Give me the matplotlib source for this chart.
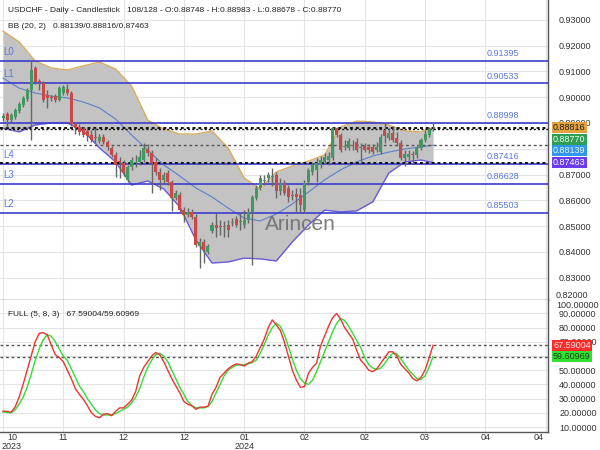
import matplotlib
matplotlib.use('Agg')
import matplotlib.pyplot as plt
from matplotlib.transforms import blended_transform_factory
import numpy as np

plt.rcParams['font.family'] = ['Liberation Sans', 'DejaVu Sans']

# ---------------- data ----------------
opens = [
0.8919, 0.8935, 0.8911, 0.8923, 0.8946, 0.8969, 0.8993, 0.9028, 0.9113, 0.9062,
0.9055, 0.9008, 0.9000, 0.9004, 0.8989, 0.9016, 0.9031, 0.9016, 0.8896, 0.8884,
0.8876, 0.8869, 0.8853, 0.8842, 0.8830, 0.8845, 0.8826, 0.8803, 0.8776, 0.8752,
0.8745, 0.8679, 0.8729, 0.8745, 0.8749, 0.8756, 0.8799, 0.8783, 0.8749, 0.8710,
0.8679, 0.8706, 0.8671, 0.8609, 0.8621, 0.8562, 0.8543, 0.8555, 0.8535, 0.8423,
0.8439, 0.8400, 0.8481, 0.8504, 0.8500, 0.8497, 0.8504, 0.8512, 0.8528, 0.8516,
0.8504, 0.8524, 0.8555, 0.8609, 0.8648, 0.8675, 0.8687, 0.8690, 0.8698, 0.8636,
0.8667, 0.8648, 0.8621, 0.8625, 0.8621, 0.8562, 0.8671, 0.8710, 0.8718, 0.8737,
0.8749, 0.8756, 0.8764, 0.8880, 0.8853, 0.8807, 0.8803, 0.8814, 0.8826, 0.8803,
0.8811, 0.8807, 0.8807, 0.8795, 0.8787, 0.8873, 0.8842, 0.8861, 0.8842, 0.8822,
0.8764, 0.8768, 0.8780, 0.8776, 0.8803, 0.8834, 0.8853, 0.88748]
highs = [
0.8938, 0.8942, 0.8938, 0.8958, 0.8981, 0.9004, 0.9035, 0.9144, 0.9121, 0.9070,
0.9062, 0.9028, 0.9008, 0.9012, 0.9043, 0.9047, 0.9051, 0.9024, 0.8904, 0.8896,
0.8884, 0.8880, 0.8873, 0.8880, 0.8857, 0.8857, 0.8834, 0.8810, 0.8787, 0.8768,
0.8756, 0.8737, 0.8768, 0.8776, 0.8795, 0.8822, 0.8818, 0.8795, 0.8764, 0.8725,
0.8710, 0.8718, 0.8679, 0.8640, 0.8632, 0.8574, 0.8570, 0.8566, 0.8547, 0.8454,
0.8450, 0.8431, 0.8516, 0.8551, 0.8524, 0.8520, 0.8524, 0.8531, 0.8539, 0.8551,
0.8562, 0.8570, 0.8621, 0.8659, 0.8698, 0.8698, 0.8710, 0.8725, 0.8710, 0.8687,
0.8679, 0.8659, 0.8640, 0.8648, 0.8648, 0.8679, 0.8725, 0.8749, 0.8764, 0.8772,
0.8783, 0.8787, 0.8884, 0.8884, 0.8861, 0.8834, 0.8842, 0.8834, 0.8842, 0.8822,
0.8822, 0.8818, 0.8818, 0.8826, 0.8857, 0.8900, 0.8880, 0.8888, 0.8865, 0.8834,
0.8795, 0.8795, 0.8791, 0.8811, 0.8842, 0.8873, 0.8884, 0.88983]
lows = [
0.8907, 0.8884, 0.8904, 0.8915, 0.8938, 0.8962, 0.8985, 0.8834, 0.9051, 0.9028,
0.8981, 0.8958, 0.8985, 0.8981, 0.8985, 0.9008, 0.9008, 0.8888, 0.8857, 0.8853,
0.8845, 0.8830, 0.8826, 0.8822, 0.8822, 0.8818, 0.8795, 0.8768, 0.8690, 0.8687,
0.8694, 0.8671, 0.8718, 0.8729, 0.8737, 0.8749, 0.8772, 0.8628, 0.8698, 0.8640,
0.8667, 0.8659, 0.8559, 0.8601, 0.8555, 0.8516, 0.8535, 0.8528, 0.8419, 0.8338,
0.8357, 0.8392, 0.8473, 0.8458, 0.8466, 0.8458, 0.8458, 0.8500, 0.8497, 0.8485,
0.8493, 0.8512, 0.8349, 0.8601, 0.8640, 0.8659, 0.8671, 0.8656, 0.8609, 0.8621,
0.8621, 0.8594, 0.8601, 0.8555, 0.8555, 0.8555, 0.8659, 0.8698, 0.8671, 0.8725,
0.8741, 0.8737, 0.8756, 0.8845, 0.8787, 0.8795, 0.8795, 0.8795, 0.8787, 0.8749,
0.8787, 0.8783, 0.8780, 0.8787, 0.8780, 0.8822, 0.8834, 0.8826, 0.8811, 0.8756,
0.8733, 0.8756, 0.8745, 0.8764, 0.8795, 0.8826, 0.8845, 0.88678]
closes = [
0.8927, 0.8911, 0.8931, 0.8950, 0.8973, 0.8997, 0.9028, 0.9105, 0.9059, 0.9059,
0.8989, 0.8997, 0.8997, 0.8989, 0.9035, 0.9039, 0.9016, 0.8896, 0.8880, 0.8865,
0.8853, 0.8849, 0.8834, 0.8841, 0.8845, 0.8826, 0.8807, 0.8776, 0.8737, 0.8749,
0.8706, 0.8729, 0.8756, 0.8749, 0.8768, 0.8803, 0.8783, 0.8745, 0.8710, 0.8679,
0.8698, 0.8671, 0.8609, 0.8628, 0.8562, 0.8543, 0.8555, 0.8535, 0.8427, 0.8439,
0.8407, 0.8423, 0.8504, 0.8493, 0.8497, 0.8500, 0.8485, 0.8516, 0.8504, 0.8520,
0.8524, 0.8555, 0.8613, 0.8648, 0.8687, 0.8679, 0.8698, 0.8694, 0.8636, 0.8667,
0.8628, 0.8613, 0.8617, 0.8613, 0.8582, 0.8667, 0.8718, 0.8737, 0.8745, 0.8756,
0.8768, 0.8772, 0.8880, 0.8853, 0.8795, 0.8811, 0.8830, 0.8811, 0.8795, 0.8807,
0.8795, 0.8795, 0.8787, 0.8807, 0.8845, 0.8849, 0.8861, 0.8834, 0.8822, 0.8764,
0.8780, 0.8780, 0.8776, 0.8803, 0.8834, 0.8857, 0.8876, 0.88770]

bb_idx = [0, 4, 8, 12, 16, 20, 24, 28, 32, 36, 40, 44, 48, 52, 56, 60, 64, 68,
          72, 76, 80, 84, 88, 92, 96, 100, 104, 107]
bb_upper = [0.9256, 0.9214, 0.9140, 0.9113, 0.9105, 0.9121, 0.9136, 0.9109, 0.9043,
            0.8911, 0.8876, 0.8857, 0.8857, 0.8869, 0.8803, 0.8687, 0.8644, 0.8710,
            0.8733, 0.8752, 0.8776, 0.8884, 0.8907, 0.8904, 0.8892, 0.8869, 0.8865, 0.88816]
bb_mid = [0.9074, 0.9035, 0.9016, 0.9004, 0.8997, 0.8981, 0.8958, 0.8915, 0.8853,
          0.8795, 0.8737, 0.8694, 0.8648, 0.8613, 0.8570, 0.8531, 0.8520, 0.8547,
          0.8586, 0.8632, 0.8679, 0.8718, 0.8749, 0.8772, 0.8787, 0.8799, 0.8807, 0.88139]
bb_lower = [0.8880, 0.8865, 0.8892, 0.8900, 0.8900, 0.8869, 0.8803, 0.8749, 0.8659,
            0.8675, 0.8644, 0.8574, 0.8446, 0.8357, 0.8361, 0.8376, 0.8373, 0.8365,
            0.8439, 0.8504, 0.8562, 0.8555, 0.8559, 0.8594, 0.8706, 0.8749, 0.8756, 0.87463]

levels = [0.91395, 0.90533, 0.88998, 0.87416, 0.86628, 0.85503]
level_names = ['L0', 'L1', '', 'L4', 'L3', 'L2']

stoch_k = [21.2, 21, 20.5, 24, 31, 40, 50, 60, 70, 76, 76.5, 75, 68, 61, 59, 56, 50, 44,
           37, 33, 29.5, 25, 20, 17.5, 16.5, 19, 19.5, 18, 21, 23.5, 23.5, 26, 29, 35,
           46, 52, 56, 60, 62.5, 61, 56, 50, 44, 39, 34, 28, 26, 25, 22.5, 24, 24, 24.7,
           33, 38, 45, 48, 51, 53, 54.5, 54, 53, 55, 56, 60, 66, 72, 80, 85.5, 82, 78,
           70, 60, 50, 43, 38, 38.5, 48, 52, 55, 67, 74, 81, 87, 90, 86, 80, 76, 72, 64,
           57, 54, 50, 49, 51, 55, 59, 63, 63, 60, 54, 51, 48, 44, 42.5, 45, 50, 58.5,
           67.59004]
stoch_d = [20.7, 20.3, 20, 22, 26, 31, 38, 47, 57, 65, 71.5, 75, 74, 70, 65, 60, 57, 51,
           45, 39, 35, 30, 26, 22, 19.5, 18.5, 18.5, 18.5, 19.5, 21, 22.5, 24, 27, 31,
           37, 45, 52, 57, 61, 62, 60, 56, 50, 44, 38, 33, 28, 25, 23.5, 23.5, 23.5,
           24.5, 28, 34, 40, 46, 50, 52, 53.5, 54, 54, 54.5, 55.5, 57, 62, 68, 75, 80,
           83, 81, 75, 67, 58, 50, 44, 41, 40, 43, 49, 56, 63, 70, 77, 83, 86.5, 85, 81,
           76, 71, 66, 59, 54, 51.5, 50.5, 51.5, 55, 59, 62, 61.5, 58, 54, 50, 47, 44,
           43.5, 46, 52, 59.60969]

x_tick_idx = [0, 15, 30, 45, 60, 75, 90, 105, 120, 135]
x_tick_months = ['10', '11', '12', '12', '01', '02', '02', '03', '04', '04']
x_tick_years = ['2023', '', '', '', '2024', '', '', '', '', '']

price_ticks = [0.83, 0.84, 0.85, 0.86, 0.87, 0.88, 0.89, 0.90, 0.91, 0.92, 0.93]
price_hidden = [0.88]          # tick labels covered by the value boxes
stoch_ticks = [10, 20, 30, 40, 50, 60, 70, 80, 90]
stoch_hidden = [60]

header = ("USDCHF - Daily - Candlestick   108/128 - O:0.88748 - H:0.88983 - "
          "L:0.88678 - C:0.88770")
bb_text = "BB (20, 2)   0.88139/0.88816/0.87463"
stoch_text = "FULL (5, 8, 3)   67.59004/59.60969"

# ---------------- figure ----------------
W, H = 600, 450
FS = 6.5
FSH = 6.0
fig = plt.figure(figsize=(6, 4.5), dpi=100)
fig.patch.set_facecolor('white')

ax = fig.add_axes([0, 150 / H, 548 / W, 300 / H])
ax2 = fig.add_axes([0, 18 / H, 548 / W, 132 / H])

XMIN, XMAX = -0.75, 135.6
for a in (ax, ax2):
    a.set_xlim(XMIN, XMAX)
    a.set_facecolor('white')
    for s in ('left', 'top'):
        a.spines[s].set_visible(False)
    a.spines['right'].set_color('#555555')
    a.spines['bottom'].set_color('#555555')
    a.spines['right'].set_linewidth(1.0)
    a.spines['bottom'].set_linewidth(1.0)
    a.set_xticks([])
    a.yaxis.tick_right()
    a.tick_params(axis='y', length=0, pad=8, labelsize=FS, labelcolor='#333333')
    for xi in x_tick_idx:
        a.axvline(xi, color='#e4e4e4', lw=0.8, zorder=0)

ax.set_ylim(0.82136, 0.93764)
ax.set_yticks(price_ticks)
ax.set_yticklabels(["" if v in price_hidden else f"{v:.5f}" for v in price_ticks])
for v in price_ticks:
    ax.axhline(v, color='#e4e4e4', lw=0.8, zorder=0)

# Bollinger band
ax.fill_between(bb_idx, bb_lower, bb_upper, color='#c3c3c3', zorder=1, lw=0)
ax.plot(bb_idx, bb_upper, color='#d9ad5f', lw=1.0, zorder=2)
ax.plot(bb_idx, bb_lower, color='#6a5bd8', lw=1.0, zorder=2)
ax.plot(bb_idx, bb_mid, color='#5a80c8', lw=0.8, zorder=2)

# level lines
tr = blended_transform_factory(ax.transAxes, ax.transData)
for val, name in zip(levels, level_names):
    ax.axhline(val, color='#3c3ccc', lw=1.2, zorder=3)
    if name:
        ax.annotate(name, xy=(0.006, val), xycoords=tr, xytext=(0, 3),
                    textcoords='offset points', fontsize=7, color='#5b78e0',
                    ha='left', va='bottom', zorder=6)
    ax.annotate(f"{val:.5f}", xy=(503 / 548, val), xycoords=tr, xytext=(0, 2),
                textcoords='offset points', fontsize=FS, color='#5b78e0',
                ha='center', va='bottom', zorder=6)

# dotted current lines
ax.axhline(0.88816, color='#111111', lw=1.4, ls=(0, (1.5, 1.5)), zorder=4)
ax.axhline(0.88770, color='#111111', lw=1.0, ls=(0, (1.5, 1.5)), zorder=4)
ax.axhline(0.88139, color='#555555', lw=1.0, ls=(0, (2, 2)), zorder=4)
ax.axhline(0.87463, color='#111111', lw=1.4, ls=(0, (1.5, 1.5)), zorder=4)

# candles
idx = np.arange(len(closes))
o = np.array(opens); c = np.array(closes); h = np.array(highs); l = np.array(lows)
up = c >= o
ax.vlines(idx, l, h, color='#666666', lw=1.0, zorder=5)
body_lo = np.minimum(o, c)
body_h = np.maximum(np.abs(c - o), 0.00025)
ax.bar(idx[up], body_h[up], bottom=body_lo[up], width=0.75, color='#3f9a62', zorder=5, lw=0)
ax.bar(idx[~up], body_h[~up], bottom=body_lo[~up], width=0.75, color='#c9494b', zorder=5, lw=0)

ax.text(300 / 548, 1 - 224 / 300, 'Arincen', transform=ax.transAxes, fontsize=15,
        color='#6e6e6e', ha='center', va='center', zorder=7, alpha=0.9)

# stochastic panel
ax2.set_ylim(6.5, 99.5)
ax2.set_yticks(stoch_ticks)
ax2.set_yticklabels(["" if v in stoch_hidden else f"{v:.5f}" for v in stoch_ticks])
for v in stoch_ticks:
    ax2.axhline(v, color='#e4e4e4', lw=0.8, zorder=0)
ax2.axhline(stoch_k[-1], color='#555555', lw=1.0, ls=(0, (2, 2)), zorder=2)
ax2.axhline(stoch_d[-1], color='#555555', lw=1.0, ls=(0, (2, 2)), zorder=2)
ax2.plot(idx, stoch_d, color='#33dd33', lw=1.0, zorder=3)
ax2.plot(idx, stoch_k, color='#ee3333', lw=1.0, zorder=4)

# texts
fig.text(8 / W, 1 - 10 / H, header, fontsize=FSH, color='#222222', va='center', ha='left')
fig.text(8 / W, 1 - 26 / H, bb_text, fontsize=FSH, color='#222222', va='center', ha='left')
fig.text(8 / W, 1 - 314 / H, stoch_text, fontsize=FSH, color='#222222', va='center', ha='left')
fig.text(556 / W, 1 - 295 / H, f"{0.82:.5f}", fontsize=FS, color='#333333', va='center', ha='left')
fig.text(556 / W, 1 - 305 / H, f"{100:.5f}", fontsize=FS, color='#333333', va='center', ha='left')

# x labels
trx = blended_transform_factory(ax2.transData, fig.transFigure)
for k, (xi, mo, yr) in enumerate(zip(x_tick_idx, x_tick_months, x_tick_years)):
    xx = xi
    if k == 0:
        xx = xi + 2.2
    elif k == len(x_tick_idx) - 1:
        xx = xi - 1.8
    fig.text(xx, 1 - 438 / H, mo, transform=trx, fontsize=FS, color='#333333',
             ha='center', va='center')
    if yr:
        fig.text(xx, 1 - 446.5 / H, yr, transform=trx, fontsize=FS, color='#333333',
                 ha='center', va='center')

# right-side value boxes
fig.canvas.draw()
def stacked_boxes(axis, items, hpx=11.5):
    prev = None
    for val, fc, tc, txt in sorted(items, key=lambda t: -t[0]):
        y = axis.transData.transform((0, val))[1]
        if prev is not None and y > prev - hpx:
            y = prev - hpx
        prev = y
        fig.text(553 / W, y / H, txt, fontsize=FS, color=tc, ha='left', va='center',
                 bbox=dict(boxstyle='square,pad=0.12', fc=fc, ec='none'), zorder=10)

stacked_boxes(ax, [
    (0.88816, '#e3a23c', '#222222', '0.88816'),
    (0.88770, '#2f9d55', '#e8ffe8', '0.88770'),
    (0.88139, '#2f98ea', '#e8f4ff', '0.88139'),
    (0.87463, '#6a3cf0', '#ffffff', '0.87463'),
])
stacked_boxes(ax2, [
    (stoch_k[-1], '#ff2b2b', '#ffe8e8', f"{stoch_k[-1]:.5f}"),
    (stoch_d[-1], '#33e033', '#114411', f"{stoch_d[-1]:.5f}"),
])

fig.savefig('out.png', dpi=100)
